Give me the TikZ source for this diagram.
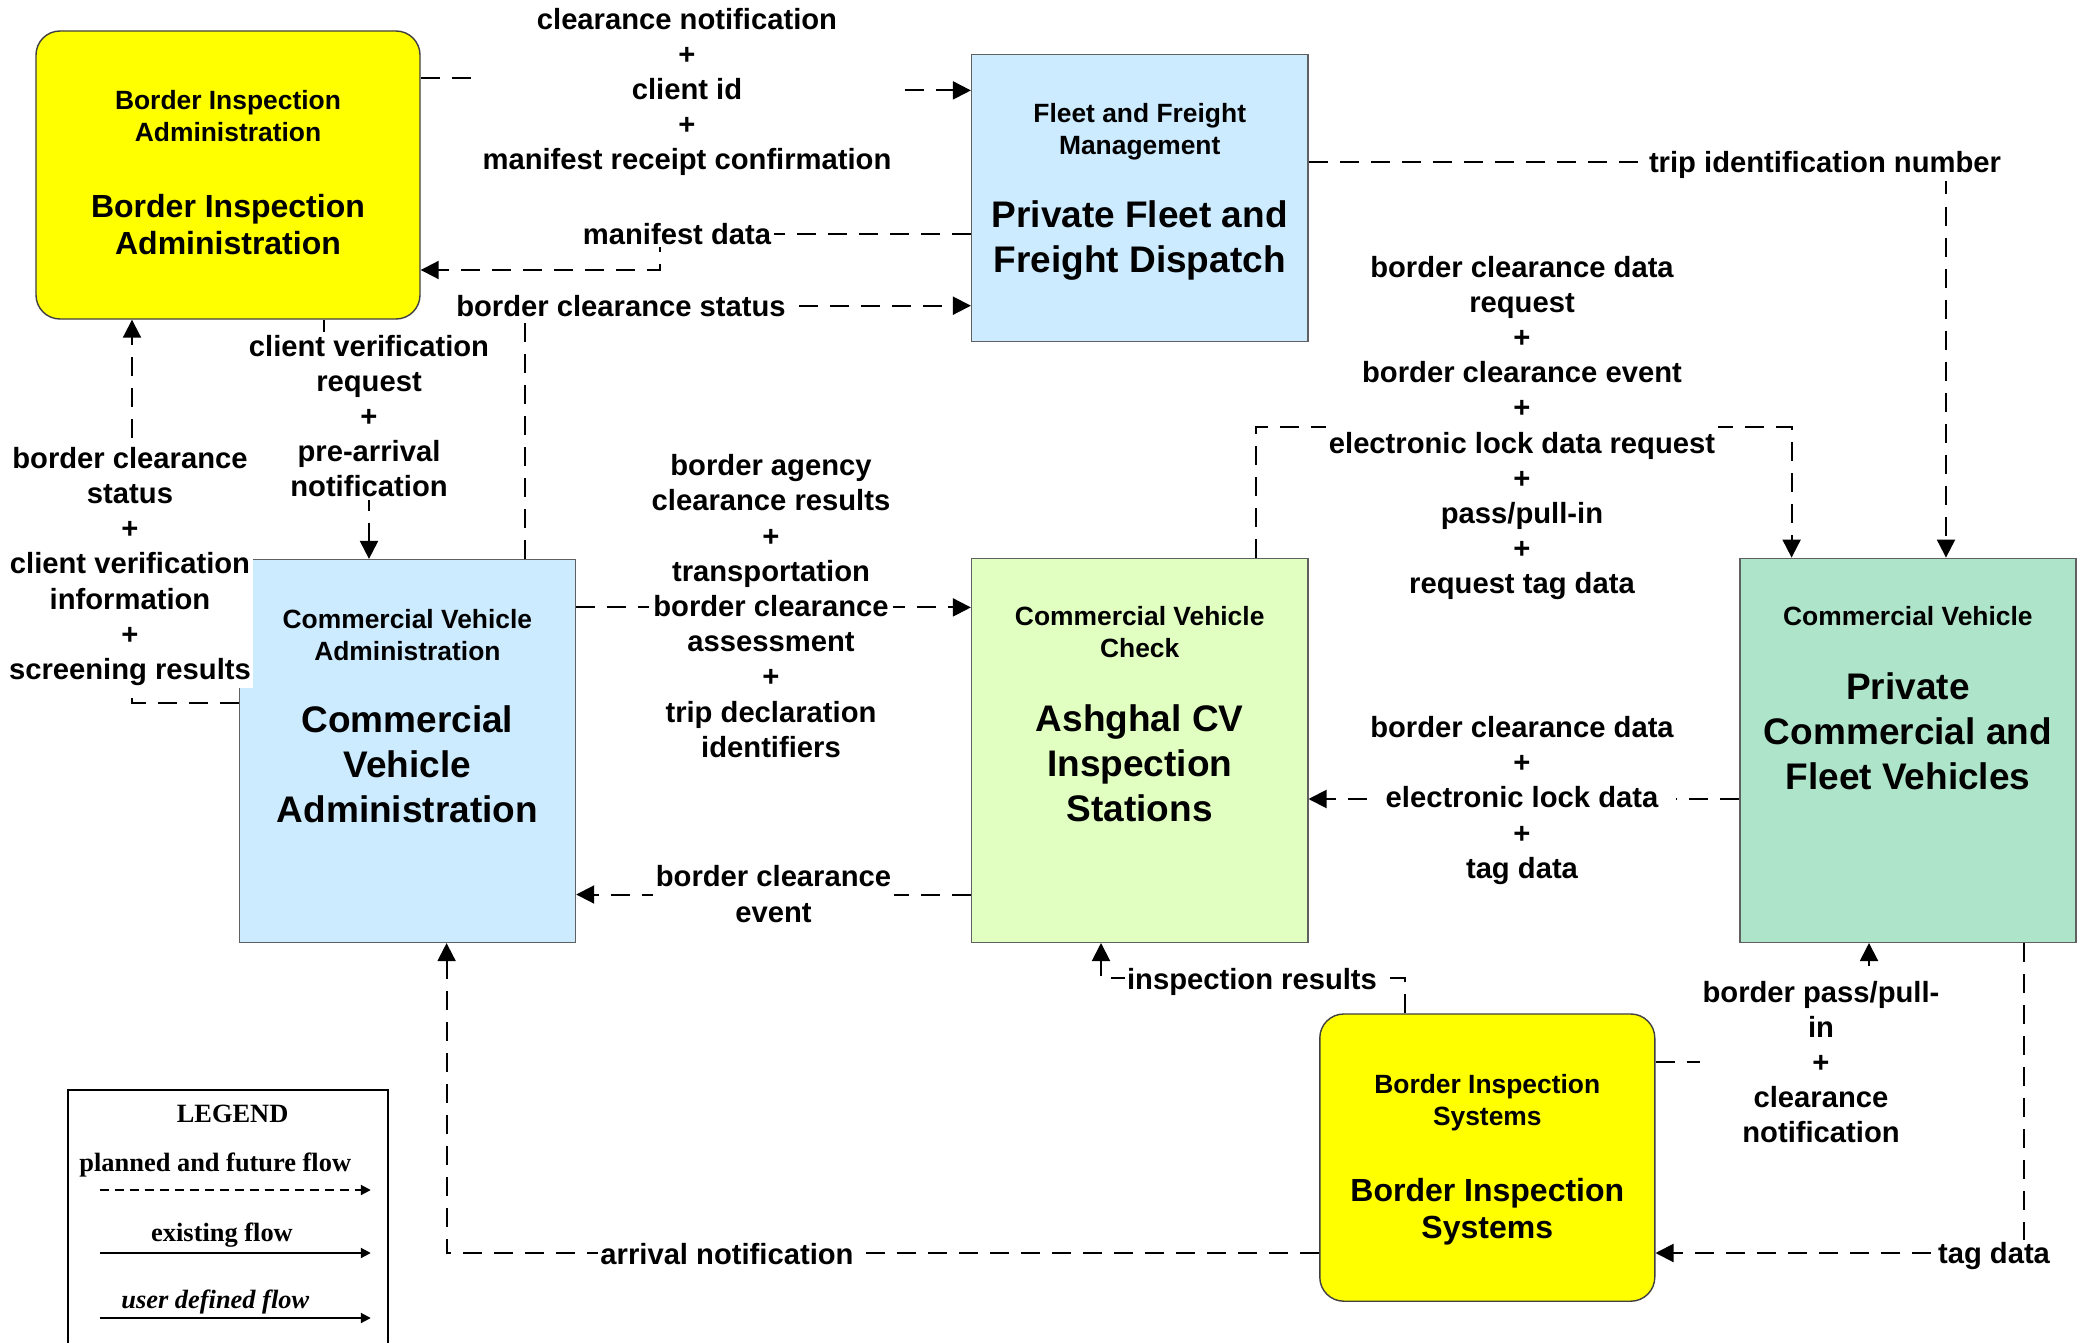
\documentclass[tikz,border=0pt]{standalone}
\usepackage{fontspec}
\setmainfont{Liberation Sans}
\newfontfamily\legendfont{Liberation Serif}
\usetikzlibrary{arrows.meta}
\definecolor{cblue}{HTML}{CCEBFF}
\definecolor{cgreen}{HTML}{E1FFC0}
\definecolor{cteal}{HTML}{AEE5CA}
\definecolor{cyell}{HTML}{FFFF00}
\newcommand\myLblFont{\fontsize{14.6}{17.6}\selectfont\bfseries}
\newcommand\mySmallFont{\fontsize{13.2}{16}\selectfont\bfseries}
\newcommand\myBigFont{\fontsize{18.5}{22.6}\selectfont\bfseries}
\newcommand\myBigYFont{\fontsize{16}{18.6}\selectfont\bfseries}
\tikzset{
  sqbox/.style={draw=gray!75!black, line width=0.7pt, minimum width=168.1pt, inner sep=0pt},
  rdbox/.style={draw=black!75, line width=0.7pt, rounded corners=12pt, fill=cyell, inner sep=0pt},
  smalltitle/.style={align=center, font=\mySmallFont, inner sep=0pt},
  bigtitle/.style={align=center, font=\myBigFont, inner sep=0pt},
  bigytitle/.style={align=center, font=\myBigYFont, inner sep=0pt},
  conn/.style={line width=1pt, dash pattern=on 9.5pt off 6pt, -{Triangle[length=9pt,width=9pt]}},
  lbl/.style={fill=white, inner sep=1.2pt, align=center, font=\myLblFont},
  legtext/.style={font=\legendfont\fontsize{13.2}{15}\selectfont\bfseries, inner sep=0pt},
  legarrow/.style={line width=1pt, -{Triangle[length=5pt,width=5pt]}}
}
\begin{document}
\begin{tikzpicture}[x=0.5pt,y=-0.5pt]
\useasboundingbox (0,0) rectangle (2084,1343);
\fill[white] (0,0) rectangle (2084,1343);
\clip (0,0) rectangle (2084,1343);

% boxes
\node[rdbox, minimum width=192pt, minimum height=144pt] (bia) at (228,175) {};
\node[sqbox, fill=cblue, minimum height=143.5pt] (ffm) at (1139.7,198) {};
\node[sqbox, fill=cblue, minimum height=191.4pt] (cva) at (407.4,751) {};
\node[sqbox, fill=cgreen, minimum height=192pt] (cvc) at (1139.7,750.3) {};
\node[sqbox, fill=cteal, minimum height=192pt] (pcv) at (1907.9,750.3) {};
\node[rdbox, minimum width=167.5pt, minimum height=143.6pt] (bis) at (1487.3,1157.6) {};

% titles
\node[smalltitle] (bia-s) at (228,115.6) {Border Inspection\\Administration};
\node[bigytitle] (bia-b) at (228,224.6) {Border Inspection\\Administration};
\node[smalltitle] (ffm-s) at (1139.7,132) {Fleet and Freight\\Management};
\node[bigtitle] (ffm-b) at (1139.7,240.6) {Private Fleet and\\Freight Dispatch};
\node[smalltitle] (cva-s) at (407.4,635) {Commercial Vehicle\\Administration};
\node[bigtitle] (cva-b) at (407.4,764) {Commercial\\Vehicle\\Administration};
\node[smalltitle] (cvc-s) at (1139.7,632.5) {Commercial Vehicle\\Check};
\node[bigtitle] (cvc-b) at (1139.7,763) {Ashghal CV\\Inspection\\Stations};
\node[smalltitle] (pcv-s) at (1907.9,616.5) {Commercial Vehicle};
\node[bigtitle] (pcv-b) at (1907.9,731) {Private\\Commercial and\\Fleet Vehicles};
\node[smalltitle] (bis-s) at (1487.3,1103) {Border Inspection\\Systems};
\node[bigytitle] (bis-b) at (1487.3,1212) {Border Inspection\\Systems};

% connectors
\draw[conn] (bia.east |- 0,78.4) -- (687,78.4) -- (687,90.4) -- (ffm.west |- 0,90.4);
\draw[conn] (ffm.west |- 0,234) -- (660,234) -- (660,270) -- (bia.east |- 0,270);
\draw[conn] (cva.north -| 525,0) |- (ffm.west |- 0,305.7);
\draw[conn] (bia.south -| 324,0) -- (324,416) -- (369,416) -- (cva.north -| 369,0);
\draw[conn] (cva.west |- 0,703) -| (bia.south -| 132,0);
\draw[conn] (cva.east |- 0,607.4) -- (cvc.west |- 0,607.4);
\draw[conn] (cvc.west |- 0,894.5) -- (cva.east |- 0,894.5);
\draw[conn] (cvc.north -| 1256,0) |- (1791.6,426.6) -- (pcv.north -| 1791.6,0);
\draw[conn] (ffm.east |- 0,162) -| (pcv.north -| 1946,0);
\draw[conn] (pcv.west |- 0,799) -- (cvc.east |- 0,799);
\draw[conn] (bis.north -| 1405,0) |- (1101,978) -- (cvc.south -| 1101,0);
\draw[conn] (bis.east |- 0,1062) -| (pcv.south -| 1869,0);
\draw[conn] (pcv.south -| 2024,0) |- (bis.east |- 0,1253);
\draw[conn] (bis.west |- 0,1253) -| (cva.south -| 446.6,0);

% labels
\node[lbl] (la) at (687,92) {clearance notification\\+\\client id\\+\\manifest receipt confirmation};
\node[lbl] (lb) at (677,234) {manifest data};
\node[lbl] (lc) at (621,305.7) {border clearance status};
\node[lbl] (ld) at (369,416) {client verification\\request\\+\\pre-arrival\\notification};
\node[lbl] (le) at (130,566.5) {border clearance\\status\\+\\client verification\\information\\+\\screening results};
\node[lbl] (lf) at (771,606) {border agency\\clearance results\\+\\transportation\\border clearance\\assessment\\+\\trip declaration\\identifiers};
\node[lbl] (lg) at (773.5,894) {border clearance\\event};
\node[lbl] (lh) at (1522,428) {border clearance data\\request\\+\\border clearance event\\+\\electronic lock data request\\+\\pass/pull-in\\+\\request tag data};
\node[lbl] (li) at (1825,164.5) {trip identification number};
\node[lbl] (lj) at (1522,800.5) {border clearance data\\+\\electronic lock data\\+\\tag data};
\node[lbl] (lk) at (1252,981.5) {inspection results};
\node[lbl] (ll) at (1821,1062) {border pass/pull-\\in\\+\\clearance\\notification};
\node[lbl] (lm) at (1994,1256) {tag data};
\node[lbl] (ln) at (727,1254) {arrival notification};

% legend
\node[draw=black, line width=1pt, minimum width=160pt, minimum height=140pt, anchor=north west, inner sep=0pt] (legend) at (66.7,1089) {};
\node[legtext] (leg-t) at (232.6,1114) {LEGEND};
\node[legtext] (leg-p) at (215.3,1165) {planned and future flow};
\coordinate (lp1) at (99.7,1190);
\coordinate (lp2) at (370.8,1190);
\draw[legarrow, dash pattern=on 4.5pt off 3pt] (lp1) -- (lp2);
\node[legtext] (leg-e) at (222,1235) {existing flow};
\coordinate (le1) at (99.7,1253);
\coordinate (le2) at (370.8,1253);
\draw[legarrow] (le1) -- (le2);
\node[legtext, font=\legendfont\fontsize{13.2}{15}\selectfont\bfseries\itshape] (leg-u) at (215.3,1302) {user defined flow};
\coordinate (lu1) at (99.7,1318);
\coordinate (lu2) at (370.8,1318);
\draw[legarrow] (lu1) -- (lu2);
\end{tikzpicture}
\end{document}
